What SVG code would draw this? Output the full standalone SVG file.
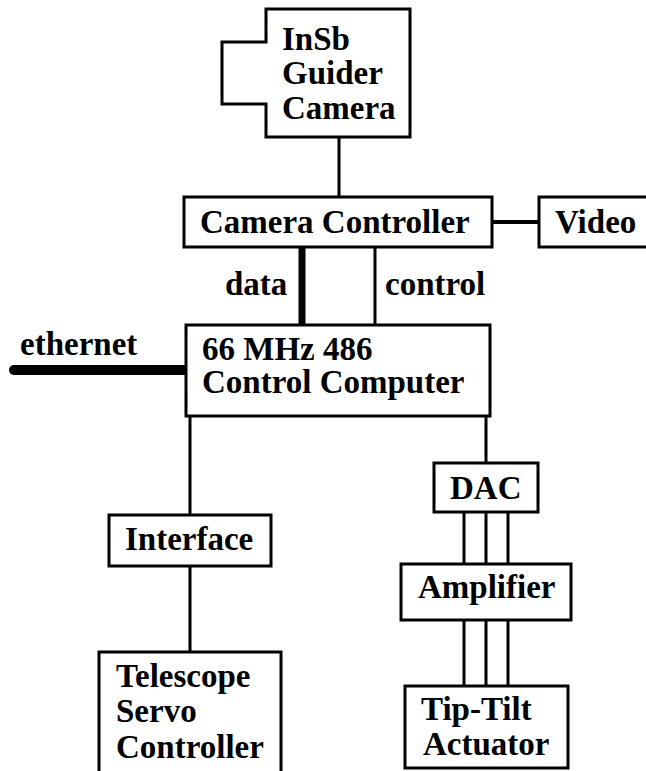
<svg xmlns="http://www.w3.org/2000/svg" width="646" height="771" viewBox="0 0 646 771">
<style>
.box{fill:#fff;stroke:#000;stroke-width:3}
.ln{stroke:#000;stroke-width:3;fill:none}
.t{font-family:"Liberation Serif","Times New Roman",serif;font-weight:bold;font-size:33px;fill:#000}
</style>
<rect width="646" height="771" fill="#fff"/>
<g id="connectors">
<line class="ln" x1="339" y1="137" x2="339" y2="197"/>
<line class="ln" x1="492" y1="222" x2="539" y2="222" style="stroke-width:4"/>
<line class="ln" x1="302" y1="247" x2="302" y2="325" style="stroke-width:7;stroke-linecap:round"/>
<line class="ln" x1="375" y1="247" x2="375" y2="325"/>
<line class="ln" x1="14" y1="370" x2="186" y2="370" style="stroke-width:10;stroke-linecap:round"/>
<line class="ln" x1="190" y1="416" x2="190" y2="515"/>
<line class="ln" x1="190" y1="566" x2="190" y2="652"/>
<line class="ln" x1="486" y1="416" x2="486" y2="463"/>
<line class="ln" x1="464" y1="512" x2="464" y2="564"/>
<line class="ln" x1="486" y1="512" x2="486" y2="564"/>
<line class="ln" x1="508" y1="512" x2="508" y2="564"/>
<line class="ln" x1="464" y1="620" x2="464" y2="686"/>
<line class="ln" x1="486" y1="620" x2="486" y2="686"/>
<line class="ln" x1="508" y1="620" x2="508" y2="686"/>
<text class="t" x="225" y="295">data</text>
<text class="t" x="385" y="295">control</text>
<text class="t" x="20" y="355">ethernet</text>
</g>
<g id="camera">
<path class="box" d="M266,9 H410 V137 H266 V104 H222 V42 H266 Z"/>
<text class="t" x="282" y="50">InSb</text>
<text class="t" x="282" y="84">Guider</text>
<text class="t" x="282" y="119">Camera</text>
</g>
<g id="camera-controller">
<rect class="box" x="184" y="197" width="308" height="50"/>
<text class="t" x="200" y="233">Camera Controller</text>
</g>
<g id="video">
<rect class="box" x="539" y="197" width="120" height="50"/>
<text class="t" x="555" y="233">Video</text>
</g>
<g id="computer">
<rect class="box" x="186" y="325" width="304" height="91"/>
<text class="t" x="202" y="360">66 MHz 486</text>
<text class="t" x="202" y="393">Control Computer</text>
</g>
<g id="interface">
<rect class="box" x="109" y="515" width="162" height="51"/>
<text class="t" x="125" y="550">Interface</text>
</g>
<g id="telescope">
<rect class="box" x="99" y="652" width="182" height="130"/>
<text class="t" x="116" y="687">Telescope</text>
<text class="t" x="116" y="722">Servo</text>
<text class="t" x="116" y="758">Controller</text>
</g>
<g id="dac">
<rect class="box" x="434" y="463" width="104" height="49"/>
<text class="t" x="450" y="499">DAC</text>
</g>
<g id="amplifier">
<rect class="box" x="401" y="564" width="170" height="56"/>
<text class="t" x="418" y="598">Amplifier</text>
</g>
<g id="tiptilt">
<rect class="box" x="405" y="686" width="163" height="82"/>
<text class="t" x="421" y="720">Tip-Tilt</text>
<text class="t" x="423" y="755">Actuator</text>
</g>
</svg>
